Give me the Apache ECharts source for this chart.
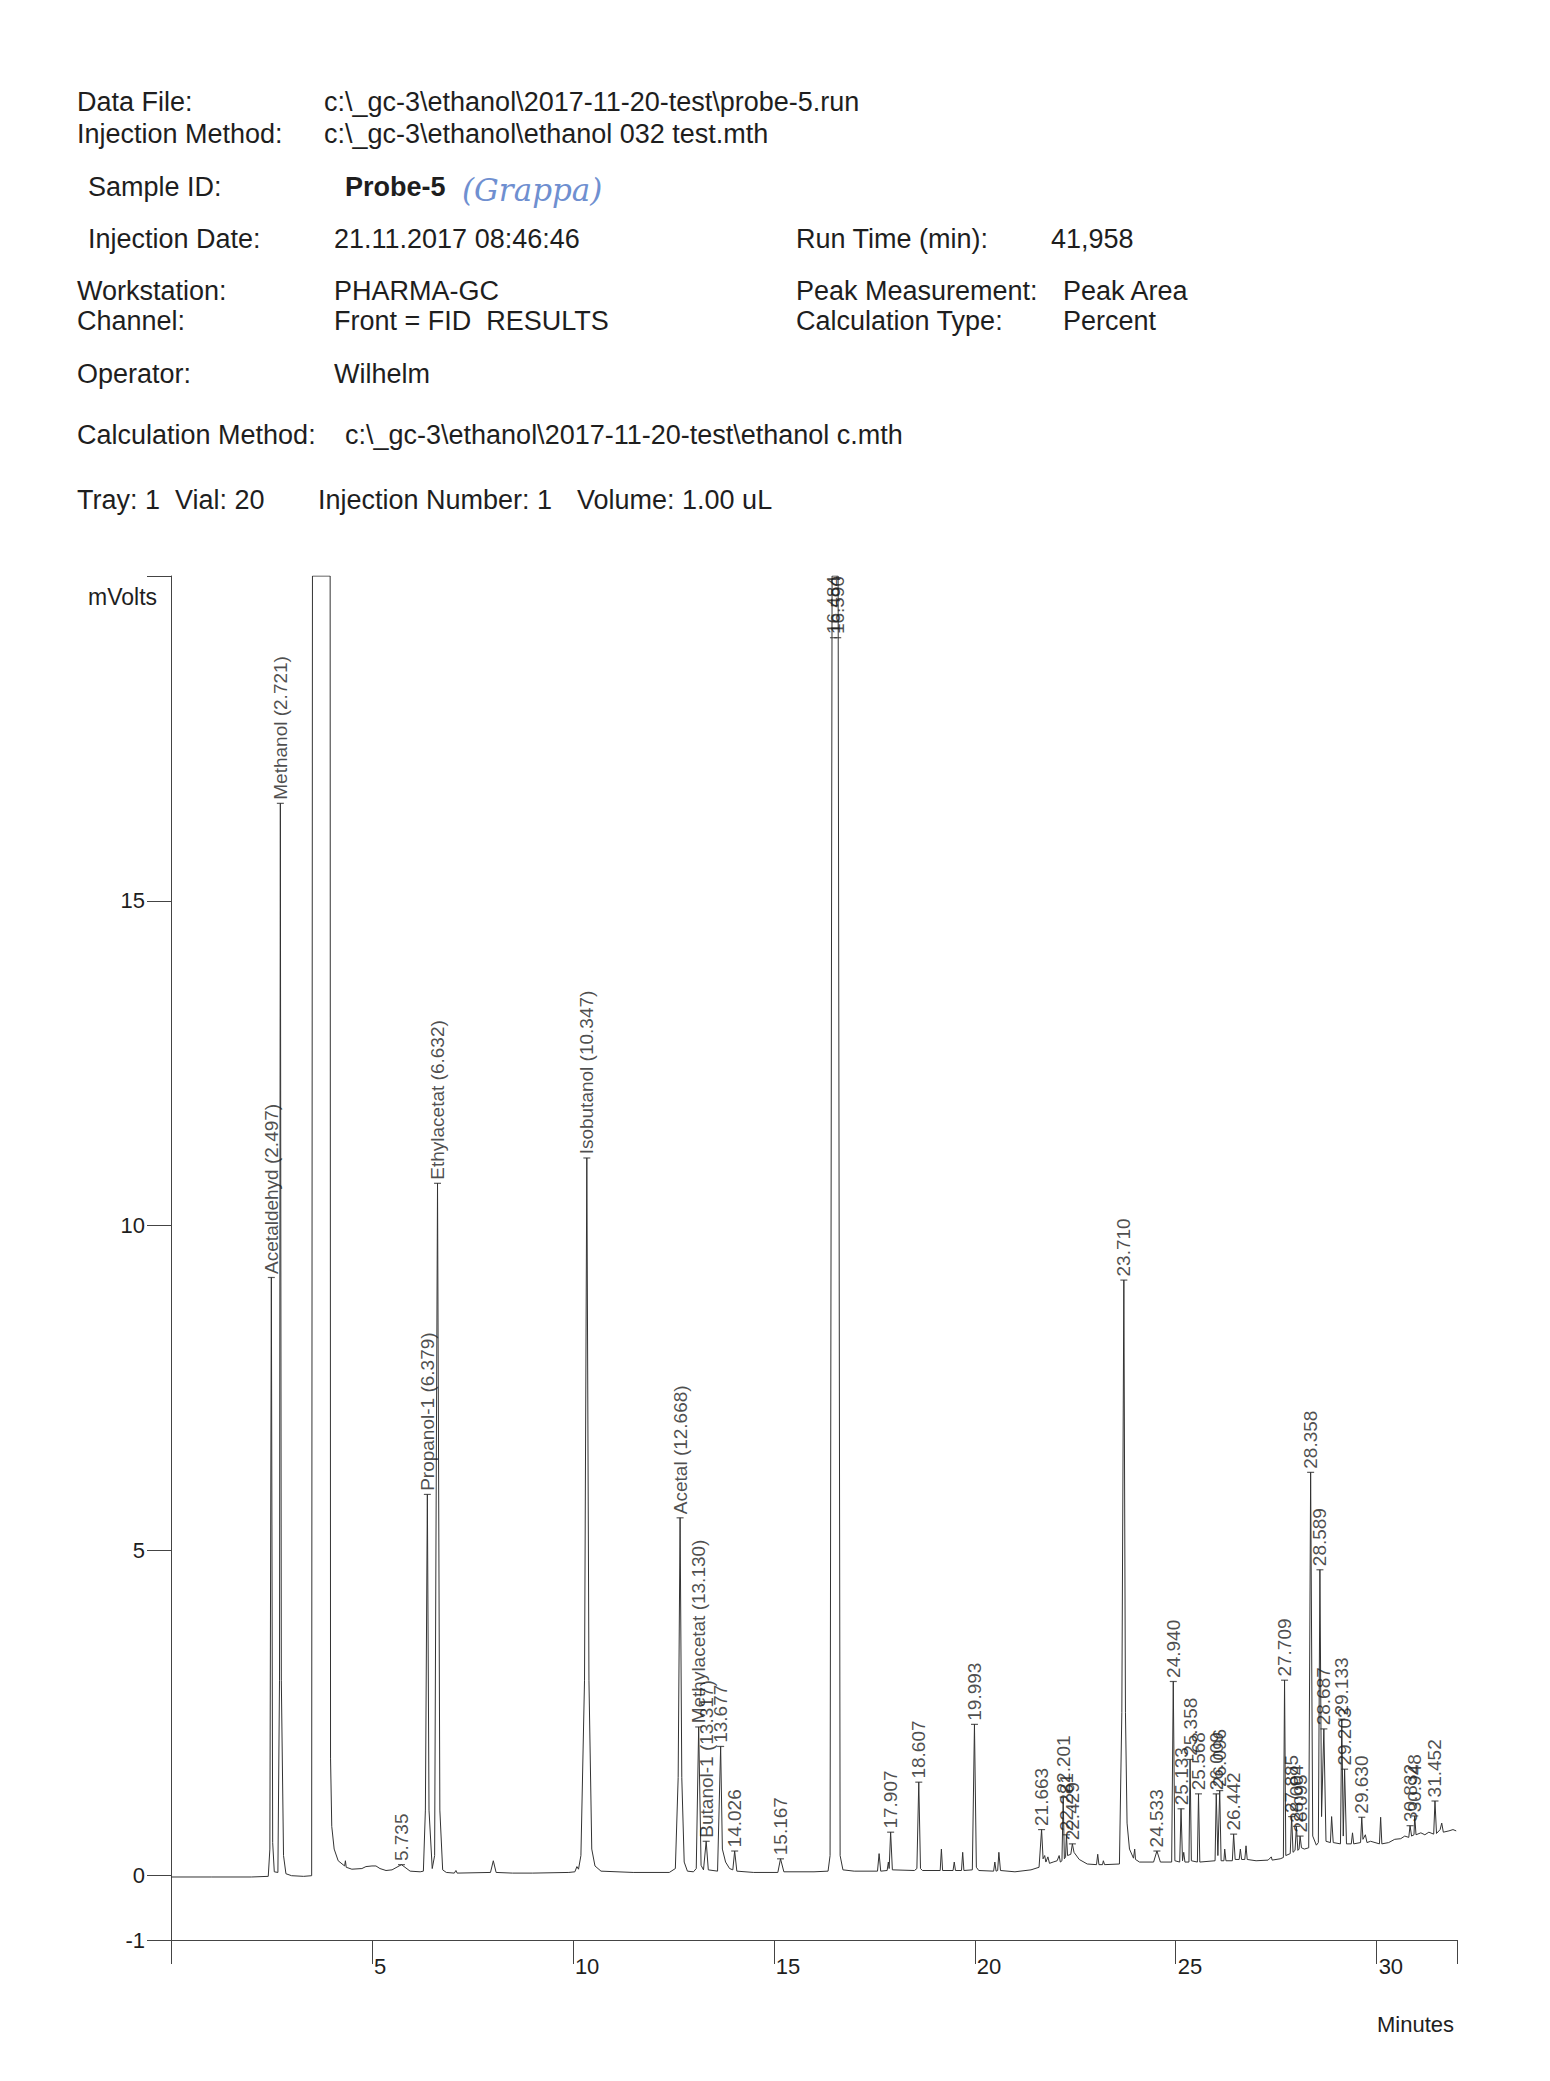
<!DOCTYPE html>
<html>
<head>
<meta charset="utf-8">
<script src="https://cdn.jsdelivr.net/npm/echarts@6/dist/echarts.min.js"></script>
<style>
html,body{margin:0;padding:0;background:#fff;}
#chart{width:1550px;height:2081px;}
</style>
</head>
<body>
<div id="chart"></div>
<script>
// ---- Chromatogram trace: [minutes, mVolts] ----
var traceA = [
[0,-0.03],[1.0,-0.03],[2.0,-0.03],[2.42,-0.02],[2.46,0.4],[2.497,9.2],[2.53,0.5],[2.57,0.05],
[2.66,0.04],[2.70,3.0],[2.721,16.5],[2.745,3.0],[2.80,0.3],[2.86,0.02],
[3.0,-0.01],[3.3,-0.02],[3.50,-0.01],[3.52,20],[3.96,20],[3.97,1.8],[4.0,0.75],[4.06,0.4],[4.16,0.22],
[4.32,0.14],[4.34,0.22],[4.36,0.12],[4.5,0.09],[4.75,0.1],[4.85,0.13],[5.0,0.14],[5.1,0.14],[5.2,0.1],
[5.35,0.07],[5.5,0.08],[5.735,0.16],[5.95,0.06],[6.2,0.05],
[6.28,0.06],[6.33,1.0],[6.379,5.86],[6.42,1.0],[6.5,0.1],[6.56,0.3],[6.632,10.65],[6.69,1.0],[6.76,0.08],[6.85,0.04],
[7.05,0.03],[7.09,0.07],[7.12,0.03],[7.95,0.04],[8.02,0.22],[8.09,0.04],[8.5,0.03]
];
var traceB = [
[9.0,0.03],[9.9,0.04],[10.05,0.05],[10.1,0.13],[10.14,0.09],[10.2,0.3],[10.29,3.0],[10.347,11.04],[10.40,3.0],
[10.47,0.4],[10.55,0.14],[10.7,0.06],[11.5,0.04],[12.4,0.04],
[12.55,0.1],[12.62,1.5],[12.668,5.5],[12.71,1.5],[12.77,0.2],[12.85,0.06],[13.0,0.05],
[13.07,0.1],[13.13,2.28],[13.19,0.15],[13.25,0.08],[13.317,0.52],[13.37,0.08],[13.6,0.06],[13.677,1.98],
[13.72,0.4],[13.8,0.2],[13.9,0.1],[13.98,0.08],[14.026,0.37],[14.08,0.06],[14.5,0.04],[15.1,0.04],
[15.167,0.25],[15.25,0.05],[16.0,0.05],[16.35,0.06]
];
var traceC = [
[16.40,0.3],[16.45,20],[16.60,20],[16.65,0.3],[16.72,0.08],[17.0,0.06],[17.58,0.06],[17.62,0.33],[17.66,0.06],
[17.82,0.07],[17.85,0.2],[17.87,0.1],[17.907,0.66],[17.95,0.08],[18.5,0.07],[18.56,0.1],[18.607,1.43],[18.65,0.1],
[18.7,0.07],[19.14,0.07],[19.17,0.4],[19.2,0.07],[19.46,0.07],[19.49,0.2],[19.52,0.07],[19.67,0.07],[19.7,0.35],
[19.73,0.07],[19.94,0.08],[19.993,2.32],[20.04,0.12],[20.1,0.07],[20.47,0.06],[20.5,0.2],[20.53,0.06],[20.57,0.07],
[20.6,0.35],[20.64,0.07],[21.0,0.05],[21.4,0.08],[21.6,0.12],[21.663,0.7],[21.7,0.25],[21.74,0.3],[21.77,0.2],
[21.82,0.28],[21.86,0.18],[21.95,0.2],[22.05,0.22],[22.1,0.3],[22.13,0.2],[22.17,0.22],[22.201,1.2],[22.23,0.25],
[22.26,0.28],[22.281,0.62],[22.31,0.3],[22.39,0.32],[22.429,0.48],[22.47,0.35],[22.6,0.24],[22.8,0.17],
[23.03,0.16],[23.06,0.32],[23.09,0.16],[23.18,0.16],[23.2,0.22],[23.23,0.16],[23.6,0.17],[23.66,2.5],[23.71,9.16],
[23.75,2.5],[23.79,0.8],[23.85,0.4],[23.95,0.26],[23.98,0.4],[24.0,0.24],[24.1,0.2]
];
var traceD = [
[24.45,0.2],[24.533,0.37],[24.62,0.2],[24.9,0.2],[24.94,2.98],[24.98,0.22],[25.1,0.2],[25.133,1.02],[25.17,0.22],
[25.2,0.35],[25.23,0.2],[25.33,0.2],[25.358,1.78],[25.39,0.22],[25.54,0.2],[25.568,1.25],[25.6,0.2],[25.98,0.22],
[26.009,1.25],[26.05,0.3],[26.096,1.3],[26.13,0.22],[26.2,0.22],[26.22,0.4],[26.25,0.22],[26.41,0.22],[26.442,0.63],
[26.48,0.24],[26.58,0.24],[26.61,0.4],[26.64,0.24],[26.72,0.24],[26.75,0.45],[26.78,0.24],[27.0,0.22],[27.3,0.23],
[27.38,0.28],[27.4,0.23],[27.6,0.25],[27.68,0.27],[27.709,3.0],[27.74,0.3],[27.85,0.33],[27.885,0.9],[27.92,0.35],
[27.97,0.38],[28.004,0.75],[28.04,0.38],[28.07,0.4],[28.095,0.6],[28.13,0.42],[28.2,0.4],[28.31,0.42],[28.358,6.2],
[28.41,0.6],[28.5,0.46],[28.55,0.5],[28.589,4.7],[28.63,0.9],[28.687,2.25],[28.74,0.52],[28.85,0.5],[28.88,0.9],
[28.92,0.5],[29.1,0.48],[29.133,2.4],[29.17,0.6],[29.203,1.63],[29.25,0.48],[29.37,0.48],[29.4,0.65],[29.43,0.48],
[29.6,0.5],[29.63,0.89],[29.66,0.55],[29.72,0.62],[29.76,0.5],[29.85,0.52],[30.07,0.48],[30.1,0.89],[30.13,0.48],
[30.3,0.5],[30.45,0.55],[30.6,0.56],[30.7,0.6],[30.8,0.58],[30.832,0.76],[30.87,0.6],[30.93,0.62],[30.948,0.91],
[30.98,0.62],[31.1,0.65],[31.2,0.62],[31.3,0.66],[31.42,0.63],[31.452,1.14],[31.49,0.64],[31.58,0.7],[31.62,0.8],
[31.66,0.66],[31.8,0.68],[31.9,0.7],[31.98,0.68]
];

// ---- Peak labels ----
var peakNames = ['Acetaldehyd (2.497)','Methanol (2.721)','5.735','Propanol-1 (6.379)','Ethylacetat (6.632)',
'Isobutanol (10.347)','Acetal (12.668)','Methylacetat (13.130)','Butanol-1 (13.317)','13.677','14.026','15.167',
'16.484','16.590','17.907','18.607','19.993','21.663','22.201','22.281','22.429','23.710','24.533','24.940',
'25.133','25.358','25.568','26.009','26.096','26.442','27.709','27.885','28.004','28.095','28.358','28.589',
'28.687','29.133','29.203','29.630','30.832','30.948','31.452'];
var peakTimes = [2.497,2.721,5.735,6.379,6.632,10.347,12.668,13.13,13.317,13.677,14.026,15.167,
16.484,16.59,17.907,18.607,19.993,21.663,22.201,22.281,22.429,23.71,24.533,24.94,
25.133,25.358,25.568,26.009,26.096,26.442,27.709,27.885,28.004,28.095,28.358,28.589,
28.687,29.133,29.203,29.63,30.832,30.948,31.452];
var labelHeights = [9.2,16.5,0.16,5.86,10.65,11.04,5.5,2.28,0.52,1.98,0.37,0.25,
19.05,19.05,0.66,1.43,2.32,0.7,1.2,0.62,0.48,9.16,0.37,2.98,
1.02,1.78,1.25,1.25,1.3,0.63,3.0,0.9,0.75,0.6,6.2,4.7,
2.25,2.4,1.63,0.89,0.76,0.91,1.14];

// ---- Axis ticks ----
var xTicks = [0,5,10,15,20,25,30,32];
var xTickLabels = [5,10,15,20,25,30];
var yTicks = [-1,0,5,10,15,20];
var yTickLabels = [-1,0,5,10,15];

// ---- Header text ----
var headerRows = [
  ['Data File:', 77, 102], ['c:\\_gc-3\\ethanol\\2017-11-20-test\\probe-5.run', 324, 102],
  ['Injection Method:', 77, 134], ['c:\\_gc-3\\ethanol\\ethanol 032 test.mth', 324, 134],
  ['Sample ID:', 88, 187],
  ['Injection Date:', 88, 239], ['21.11.2017 08:46:46', 334, 239],
  ['Run Time (min):', 796, 239], ['41,958', 1051, 239],
  ['Workstation:', 77, 291], ['PHARMA-GC', 334, 291],
  ['Peak Measurement:', 796, 291], ['Peak Area', 1063, 291],
  ['Channel:', 77, 321], ['Front = FID  RESULTS', 334, 321],
  ['Calculation Type:', 796, 321], ['Percent', 1063, 321],
  ['Operator:', 77, 374], ['Wilhelm', 334, 374],
  ['Calculation Method:', 77, 435], ['c:\\_gc-3\\ethanol\\2017-11-20-test\\ethanol c.mth', 345, 435],
  ['Tray: 1  Vial: 20', 77, 500], ['Injection Number: 1', 318, 500], ['Volume: 1.00 uL', 577, 500]
];

var FONT = '"Liberation Sans", Arial, sans-serif';
var INK = '#1e1e1e';

var traceData = traceA.concat(traceB, traceC, traceD);
var labelData = peakTimes.map(function (t, i) { return [t, labelHeights[i], peakNames[i]]; });

var graphics = headerRows.map(function (r) {
  return { type: 'text', x: r[1], y: r[2], silent: true,
    style: { text: r[0], fill: INK, fontSize: 27, fontFamily: FONT,
      align: 'left', verticalAlign: 'middle', textAlign: 'left', textVerticalAlign: 'middle' } };
});
graphics.push({ type: 'text', x: 345, y: 187, style: { text: 'Probe-5', fill: INK, fontSize: 27, fontWeight: 'bold', fontFamily: FONT,
  align: 'left', verticalAlign: 'middle', textAlign: 'left', textVerticalAlign: 'middle' } });
graphics.push({ type: 'text', x: 462, y: 190, style: { text: '(Grappa)', fill: '#6f8fd0', fontSize: 31, fontStyle: 'italic',
  fontFamily: '"DejaVu Serif", serif', align: 'left', verticalAlign: 'middle', textAlign: 'left', textVerticalAlign: 'middle' } });
graphics.push({ type: 'text', x: 88, y: 597, style: { text: 'mVolts', fill: INK, fontSize: 23, fontFamily: FONT,
  align: 'left', verticalAlign: 'middle', textAlign: 'left', textVerticalAlign: 'middle' } });
graphics.push({ type: 'text', x: 1454, y: 2024, style: { text: 'Minutes', fill: INK, fontSize: 22, fontFamily: FONT,
  align: 'right', verticalAlign: 'middle', textAlign: 'right', textVerticalAlign: 'middle' } });

var chart = echarts.init(document.getElementById('chart'), null, { renderer: 'svg', width: 1550, height: 2081 });
chart.setOption({
  animation: false,
  backgroundColor: '#ffffff',
  grid: { left: 171, top: 576, width: 1286, height: 1364, containLabel: false },
  xAxis: {
    type: 'value', min: 0, max: 32,
    axisLine: { show: true, onZero: false, lineStyle: { color: '#444', width: 1 } },
    axisTick: { show: true, length: 24, customValues: xTicks, lineStyle: { color: '#444', width: 1 } },
    axisLabel: { show: true, customValues: xTickLabels, margin: 15, align: 'left', verticalAlign: 'top',
      padding: [0, 0, 0, 2], fontSize: 22, fontFamily: FONT, color: INK },
    splitLine: { show: false }
  },
  yAxis: {
    type: 'value', min: -1, max: 20,
    axisLine: { show: true, onZero: false, lineStyle: { color: '#444', width: 1 } },
    axisTick: { show: true, length: 24, customValues: yTicks, lineStyle: { color: '#444', width: 1 } },
    axisLabel: { show: true, customValues: yTickLabels, margin: 26, fontSize: 22, fontFamily: FONT, color: INK },
    splitLine: { show: false }
  },
  graphic: graphics,
  series: [
    { type: 'line', data: traceData, showSymbol: false, symbol: 'none', smooth: false,
      lineStyle: { color: '#333', width: 1 }, clip: true, z: 2 },
    { type: 'scatter', data: labelData, symbol: 'rect', symbolSize: [7, 1.2],
      itemStyle: { color: '#333' }, z: 3, clip: false,
      label: { show: true, formatter: function (p) { return p.data[2]; },
        position: 'top', distance: 3, rotate: 90, align: 'left', verticalAlign: 'middle',
        fontSize: 19, fontFamily: FONT, color: INK } }
  ]
});
</script>
</body>
</html>
